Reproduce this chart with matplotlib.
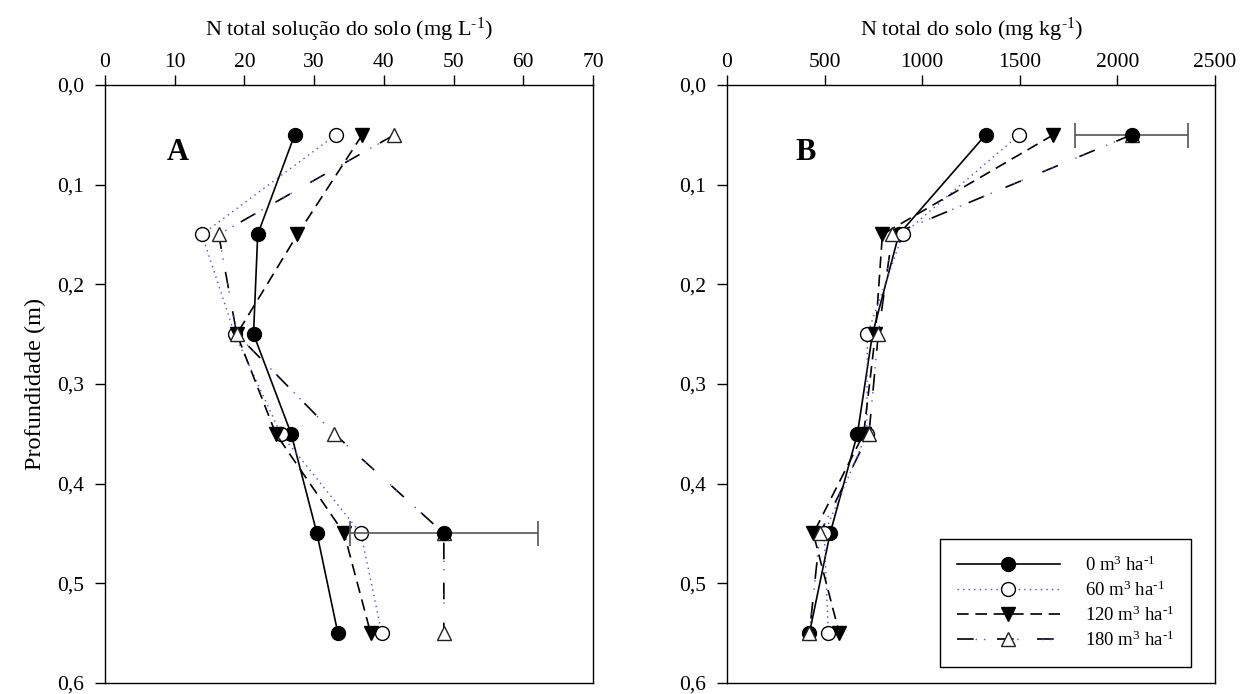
import matplotlib
matplotlib.use("Agg")
import matplotlib.pyplot as plt
from matplotlib.lines import Line2D
from matplotlib.legend_handler import HandlerTuple

plt.rcParams["font.family"] = ["Liberation Serif", "DejaVu Serif"]
plt.rcParams["mathtext.fontset"] = "custom"
plt.rcParams["mathtext.rm"] = "Liberation Serif"
plt.rcParams["mathtext.it"] = "Liberation Serif:italic"
plt.rcParams["mathtext.default"] = "rm"

# profundidade (m)
depth = [0.05, 0.15, 0.25, 0.35, 0.45, 0.55]
depth_ticks = [0.0, 0.1, 0.2, 0.3, 0.4, 0.5, 0.6]
depth_labels = ["0,0", "0,1", "0,2", "0,3", "0,4", "0,5", "0,6"]

# N total na solucao do solo (mg/L)
sol_0 = [27.2, 21.9, 21.3, 26.7, 30.4, 33.4]
sol_60 = [33.1, 13.9, 18.6, 25.2, 36.7, 39.7]
sol_120 = [36.9, 27.6, 18.9, 24.5, 34.3, 38.1]
sol_180 = [41.5, 16.3, 18.9, 32.9, 48.6, 48.6]
sol_err_depth = [0.45]
sol_err_val = [48.6]
sol_err = [13.5]

# N total do solo (mg/kg)
soil_0 = [1325, 880, 745, 668, 528, 422]
soil_60 = [1497, 900, 719, 716, 498, 519]
soil_120 = [1672, 796, 760, 700, 442, 575]
soil_180 = [2073, 847, 775, 727, 476, 422]
soil_err_depth = [0.05]
soil_err_val = [2073]
soil_err = [290]

sol_ticks = [0, 10, 20, 30, 40, 50, 60, 70]
soil_ticks = [0, 500, 1000, 1500, 2000, 2500]

SUP = r"$^{\text{-}1}$"
doses = ["0 m$^{3}$ ha" + SUP, "60 m$^{3}$ ha" + SUP,
         "120 m$^{3}$ ha" + SUP, "180 m$^{3}$ ha" + SUP]

BLUE = "#4a4aff"


def draw_panel(ax, s0, s60, s120, s180, err_d, err_v, err_x):
    ax.plot(s0, depth, color="black", lw=1.2, marker="o", ms=10,
            mfc="black", mec="black", zorder=3)
    ax.plot(s60, depth, color=BLUE, lw=1.0, ls=(0, (1, 3)), marker="o",
            ms=10, mfc="white", mec="black", zorder=3)
    ax.plot(s120, depth, color="black", lw=1.2, ls=(0, (7, 4)), marker="v",
            ms=10, mfc="black", mec="black", zorder=3)
    # black long dashes with blue dots in the gaps
    ax.plot(s180, depth, color="black", lw=1.2, ls=(0, (10, 14)), zorder=2)
    ax.plot(s180, depth, color=BLUE, lw=1.0, ls=(11, (1, 5, 1, 17)), zorder=2)
    ax.plot(s180, depth, ls="none", marker="^", ms=10, mfc="white",
            mec="#222222", zorder=3)
    ax.errorbar(err_v, err_d, xerr=err_x, fmt="o", color="black", ms=10,
                ecolor="#555555", elinewidth=1.2, capsize=9, capthick=1.2,
                zorder=4)

    ax.set_ylim(0.6, 0.0)
    ax.set_yticks(depth_ticks)
    ax.set_yticklabels(depth_labels)
    ax.xaxis.set_ticks_position("top")
    ax.xaxis.set_label_position("top")
    ax.tick_params(axis="both", direction="out", length=7, width=1,
                   labelsize=15.5)
    ax.tick_params(axis="x", pad=2)
    ax.tick_params(axis="y", pad=8)
    for sp in ax.spines.values():
        sp.set_linewidth(1)


fig = plt.figure(figsize=(12.49, 6.94), dpi=100)
ax1 = fig.add_axes([0.0841, 0.0159, 0.3907, 0.8617])
ax2 = fig.add_axes([0.5821, 0.0159, 0.3907, 0.8617])

draw_panel(ax1, sol_0, sol_60, sol_120, sol_180,
           sol_err_depth, sol_err_val, sol_err)
ax1.set_xlim(0, 70)
ax1.set_xticks(sol_ticks)
ax1.set_xlabel("N total solução do solo (mg L" + SUP + ")", fontsize=16,
               labelpad=13)
ax1.set_ylabel("Profundidade (m)", fontsize=17.5, labelpad=8)
ax1.text(10.5, 0.068, "A", fontsize=22, fontweight="bold",
         ha="center", va="center")

draw_panel(ax2, soil_0, soil_60, soil_120, soil_180,
           soil_err_depth, soil_err_val, soil_err)
ax2.set_xlim(0, 2500)
ax2.set_xticks(soil_ticks)
ax2.set_xlabel("N total do solo (mg kg" + SUP + ")", fontsize=16, labelpad=13)
ax2.text(405, 0.068, "B", fontsize=22, fontweight="bold",
         ha="center", va="center")

# legend entries
h0 = Line2D([], [], color="black", lw=1.2, marker="o", ms=10,
            mfc="black", mec="black")
h60 = Line2D([], [], color=BLUE, lw=1.0, ls=(0, (1, 3)), marker="o",
             ms=10, mfc="white", mec="black")
h120 = Line2D([], [], color="black", lw=1.2, ls=(0, (7, 4)), marker="v",
              ms=10, mfc="black", mec="black")
h180a = Line2D([], [], color="black", lw=1.2, ls=(0, (10, 14)))
h180b = Line2D([], [], color=BLUE, lw=1.0, ls=(11, (1, 5, 1, 17)))
h180c = Line2D([], [], ls="none", marker="^", ms=10, mfc="white",
               mec="#222222")
leg = ax2.legend([h0, h60, h120, (h180a, h180b, h180c)], doses,
                 handler_map={tuple: HandlerTuple(ndivide=1)},
                 loc="lower right", bbox_to_anchor=(0.951, 0.027),
                 fontsize=13.5, handlelength=5.5, handletextpad=1.35,
                 labelspacing=0.3, borderpad=0.9, borderaxespad=0,
                 fancybox=False, framealpha=1, edgecolor="black")
leg.get_frame().set_linewidth(1)

fig.savefig("out.png", dpi=100)
